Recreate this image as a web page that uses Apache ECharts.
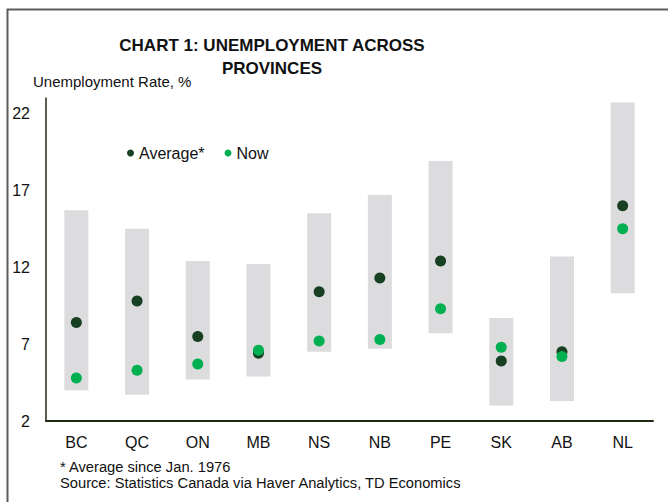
<!DOCTYPE html>
<html>
<head>
<meta charset="utf-8">
<script src="https://cdn.jsdelivr.net/npm/echarts@6/dist/echarts.min.js"></script>
<style>
  html, body { margin: 0; padding: 0; background: #fff; }
  #chart { width: 668px; height: 502px; }
</style>
</head>
<body>
<div id="chart"></div>
<script>
// provinces
const provinces = ['BC', 'QC', 'ON', 'MB', 'NS', 'NB', 'PE', 'SK', 'AB', 'NL']
// historical range (low / high) since 1976
const rangeLow = [4.0, 3.7, 4.7, 4.9, 6.5, 6.7, 7.7, 3.0, 3.3, 10.3]
const rangeHigh = [15.7, 14.5, 12.4, 12.2, 15.5, 16.7, 18.9, 8.7, 12.7, 22.7]
// average since Jan. 1976 and latest
const average = [8.4, 9.8, 7.5, 6.4, 10.4, 11.3, 12.4, 5.9, 6.5, 16.0]
const now = [4.8, 5.3, 5.7, 6.6, 7.2, 7.3, 9.3, 6.8, 6.2, 14.5]
const yTicks = [2, 7, 12, 17, 22]

const chart = echarts.init(document.getElementById('chart'), null, { renderer: 'svg' })
const font = 'Liberation Sans, Arial, sans-serif'

const option = {
  backgroundColor: '#fff',
  animation: false,
  title: {
    text: 'CHART 1: UNEMPLOYMENT ACROSS\nPROVINCES',
    left: 267,
    top: 29,
    textAlign: 'center',
    textStyle: {
      fontFamily: font,
      fontSize: 17,
      fontWeight: 'bold',
      color: '#111',
      lineHeight: 23
    }
  },
  legend: {
    data: ['Average*', 'Now'],
    left: 122,
    top: 140,
    icon: 'circle',
    itemWidth: 7, // 圆点大小
    itemHeight: 7,
    itemGap: 20,
    textStyle: {
      fontFamily: font,
      fontSize: 16,
      color: '#111'
    }
  },
  grid: {
    left: 46,
    right: 15,
    top: 98,
    bottom: 81
  },
  xAxis: {
    type: 'category',
    data: provinces,
    axisLine: {
      lineStyle: { color: '#1f2a14', width: 2 }
    },
    axisTick: { show: false },
    axisLabel: {
      margin: 13,
      fontFamily: font,
      fontSize: 16,
      color: '#111'
    }
  },
  yAxis: {
    type: 'value',
    min: 2,
    max: 23,
    interval: 5,
    axisLine: {
      show: true,
      lineStyle: { color: '#1f2a14', width: 1.5 }
    },
    axisTick: { show: false },
    splitLine: { show: false },
    axisLabel: {
      margin: 16,
      fontFamily: font,
      fontSize: 16,
      color: '#111',
      formatter: v => (yTicks.indexOf(v) >= 0 ? String(v) : '')
    }
  },
  graphic: [
    {
      type: 'text',
      left: 33,
      top: 74,
      style: {
        text: 'Unemployment Rate, %',
        fontFamily: font,
        fontSize: 15,
        fill: '#111'
      }
    },
    {
      type: 'text',
      left: 60,
      top: 459,
      style: {
        text: '* Average since Jan. 1976',
        fontFamily: font,
        fontSize: 14.7,
        fill: '#111'
      }
    },
    {
      type: 'text',
      left: 60,
      top: 475,
      style: {
        text: 'Source: Statistics Canada via Haver Analytics, TD Economics',
        fontFamily: font,
        fontSize: 14.7,
        fill: '#111'
      }
    },
    {
      type: 'polyline',
      shape: { points: [[7.5, 502], [7.5, 9.5], [668, 9.5]] },
      style: { stroke: '#5c5c5c', lineWidth: 2, fill: null }
    }
  ],
  series: [
    {
      name: 'base',
      type: 'bar',
      stack: 'range',
      barWidth: 24,
      itemStyle: { color: 'transparent' },
      data: rangeLow
    },
    {
      name: 'range',
      type: 'bar',
      stack: 'range',
      barWidth: 24,
      itemStyle: { color: '#dcdcde' },
      data: rangeHigh.map((h, i) => +(h - rangeLow[i]).toFixed(2))
    },
    {
      name: 'Average*',
      type: 'scatter',
      symbolSize: 11,
      itemStyle: { color: '#173f22', opacity: 1 },
      data: average
    },
    {
      name: 'Now',
      type: 'scatter',
      symbolSize: 11,
      itemStyle: { color: '#00b050', opacity: 1 },
      data: now
    }
  ]
}

chart.setOption(option)
window.onresize = () => {
  chart.resize()
}
</script>
</body>
</html>
